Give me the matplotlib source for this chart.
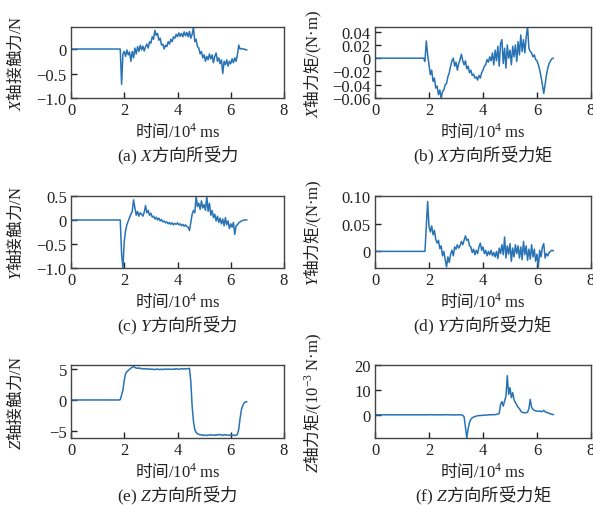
import matplotlib
matplotlib.use("Agg")
import matplotlib.pyplot as plt
from matplotlib.ticker import FixedLocator, FixedFormatter

plt.rcParams['font.family'] = ['Liberation Serif', 'Noto Sans CJK SC']
plt.rcParams['mathtext.fontset'] = 'custom'
plt.rcParams['mathtext.rm'] = 'Liberation Serif'
plt.rcParams['mathtext.it'] = 'Liberation Serif:italic'
plt.rcParams['font.size'] = 12

# time in 10^4 ms
time_1e4ms = [0.0,
    1.80, 1.85, 1.90, 1.95, 2.00, 2.05, 2.10, 2.15, 2.20, 2.25,
    2.30, 2.35, 2.40, 2.45, 2.50, 2.55, 2.60, 2.65, 2.70, 2.75,
    2.80, 2.85, 2.90, 2.95, 3.00, 3.05, 3.10, 3.15, 3.20, 3.25,
    3.30, 3.35, 3.40, 3.45, 3.50, 3.55, 3.60, 3.65, 3.70, 3.75,
    3.80, 3.85, 3.90, 3.95, 4.00, 4.05, 4.10, 4.15, 4.20, 4.25,
    4.30, 4.35, 4.40, 4.45, 4.50, 4.55, 4.60, 4.65, 4.70, 4.75,
    4.80, 4.85, 4.90, 4.95, 5.00, 5.05, 5.10, 5.15, 5.20, 5.25,
    5.30, 5.35, 5.40, 5.45, 5.50, 5.55, 5.60, 5.65, 5.70, 5.75,
    5.80, 5.85, 5.90, 5.95, 6.00, 6.05, 6.10, 6.15, 6.20, 6.25,
    6.30, 6.35, 6.40, 6.45, 6.50, 6.55, 6.60]

force_x = [0.0,
    0, 0, -0.72, -0.10, -0.05, -0.15, -0.02, -0.12, -0.06, -0.25,
    -0.05, -0.18, 0.02, -0.10, 0.05, -0.05, 0.08, -0.02, 0.06, -0.04,
    0.05, 0.10, 0.02, 0.15, 0.12, 0.25, 0.20, 0.38, 0.28, 0.32,
    0.18, 0.22, 0.08, 0.10, 0.00, 0.08, 0.05, 0.15, 0.10, 0.20,
    0.15, 0.25, 0.22, 0.30, 0.25, 0.33, 0.26, 0.32, 0.25, 0.35,
    0.27, 0.34, 0.25, 0.36, 0.22, 0.30, 0.44, 0.15, 0.20, 0.05,
    0.02, -0.10, -0.05, -0.18, -0.12, -0.25, -0.15, -0.22, -0.10, -0.20,
    -0.12, -0.28, -0.15, -0.08, -0.25, -0.18, -0.30, -0.22, -0.50, -0.25,
    -0.32, -0.22, -0.35, -0.25, -0.30, -0.20, -0.28, -0.18, -0.25, -0.12,
    0.08, 0.00, 0.01, 0.00, 0.00, -0.01, -0.02]

torque_x = [0.0,
    0, -0.005, 0.026, 0.005, -0.010, -0.025, -0.018, -0.035, -0.030, -0.045,
    -0.042, -0.055, -0.048, -0.061, -0.050, -0.048, -0.040, -0.038, -0.028, -0.022,
    -0.012, -0.004, 0.000, -0.012, -0.006, -0.018, -0.008, -0.002, 0.006, -0.004,
    -0.010, -0.004, -0.016, -0.012, -0.022, -0.018, -0.026, -0.024, -0.030, -0.028,
    -0.033, -0.026, -0.030, -0.022, -0.018, -0.012, -0.010, -0.002, -0.006, 0.002,
    -0.004, 0.008, -0.010, 0.012, -0.004, 0.018, -0.012, 0.022, 0.028, -0.008,
    0.015, -0.015, 0.020, 0.000, 0.012, -0.010, 0.018, 0.002, 0.020, -0.005,
    0.025, 0.005, 0.035, 0.010, 0.028, 0.008, 0.032, 0.048, 0.015, 0.010,
    0.008, 0.002, 0.005, -0.002, -0.004, -0.010, -0.018, -0.028, -0.040, -0.053,
    -0.040, -0.025, -0.015, -0.008, -0.004, -0.001, 0.000]

force_y = [0.0,
    0, 0, -0.70, -1.00, -0.45, -0.22, -0.10, -0.02, 0.05, 0.12,
    0.18, 0.42, 0.25, 0.10, 0.18, 0.08, 0.15, 0.12, 0.08, 0.16,
    0.30, 0.15, 0.20, 0.10, 0.14, 0.06, 0.08, 0.02, 0.06, 0.00,
    0.04, -0.02, 0.01, -0.04, -0.02, -0.06, -0.04, -0.08, -0.05, -0.09,
    -0.06, -0.10, -0.07, -0.09, -0.06, -0.10, -0.08, -0.12, -0.09, -0.13,
    -0.10, -0.14, -0.15, -0.22, -0.05, 0.12, 0.20, 0.15, 0.50, 0.28,
    0.35, 0.22, 0.40, 0.25, 0.32, 0.20, 0.50, 0.18, 0.35, 0.10,
    0.20, 0.05, 0.12, -0.02, 0.08, -0.05, 0.04, -0.08, 0.02, -0.12,
    0.05, -0.10, -0.02, -0.18, -0.08, -0.15, -0.05, -0.30, -0.12, -0.10,
    -0.06, -0.04, -0.02, -0.01, 0.00, 0.00, 0.00]

torque_y = [0.0,
    0, 0.000, 0.045, 0.090, 0.045, 0.035, 0.046, 0.030, 0.038, 0.022,
    0.015, 0.020, 0.005, 0.010, -0.008, 0.000, -0.015, -0.028, -0.010, -0.020,
    -0.005, 0.002, -0.008, 0.008, 0.004, 0.012, 0.006, 0.010, 0.018, 0.012,
    0.020, 0.028, 0.020, 0.022, 0.010, 0.008, -0.002, 0.004, -0.006, 0.002,
    -0.004, 0.008, 0.015, 0.002, 0.008, -0.004, 0.002, -0.008, 0.000, -0.006,
    0.002, -0.008, -0.002, -0.010, 0.000, -0.013, 0.006, -0.004, 0.012, -0.006,
    0.026, -0.012, 0.010, -0.005, 0.014, -0.018, 0.006, -0.010, 0.012, -0.004,
    0.010, -0.012, 0.008, -0.015, 0.018, -0.006, 0.010, -0.016, 0.004, -0.014,
    0.012, -0.010, 0.004, -0.018, -0.005, -0.028, 0.002, -0.010, 0.008, 0.014,
    -0.012, -0.004, -0.008, -0.002, 0.000, 0.002, 0.001]

force_z = [0.0,
    0, 0.05, 0.8, 1.6, 3.2, 4.3, 4.6, 4.8, 5.0, 5.2,
    5.3, 5.5, 5.3, 5.2, 5.15, 5.25, 5.1, 5.15, 5.05, 5.1,
    5.05, 5.1, 5.0, 5.05, 5.0, 5.05, 4.95, 5.0, 5.0, 5.05,
    4.95, 5.0, 5.0, 4.95, 5.05, 5.0, 5.0, 5.05, 5.0, 5.0,
    5.0, 5.05, 5.0, 5.1, 5.05, 5.0, 5.05, 5.1, 5.05, 5.1,
    5.05, 5.1, 5.1, 5.15, 3.0, -1.0, -3.5, -4.8, -5.3, -5.5,
    -5.6, -5.7, -5.65, -5.8, -5.7, -5.75, -5.8, -5.7, -5.75, -5.65,
    -5.75, -5.7, -5.8, -5.65, -5.75, -5.6, -5.7, -5.65, -5.8, -5.7,
    -5.65, -5.75, -5.7, -5.8, -5.65, -5.75, -5.7, -5.8, -5.75, -5.6,
    -4.8, -3.0, -1.6, -0.9, -0.5, -0.3, -0.3]

torque_z = [0.0,
    0, 0, 0, 0, 0, 0.1, 0, 0, 0, 0,
    0, 0, 0, 0, 0, 0, 0, 0.1, 0, 0,
    0, 0, 0, -0.1, 0, 0, 0, 0, 0, -0.2,
    -0.8, -5.0, -9.3, -5.5, -3.0, -1.8, -1.2, -0.9, -0.7, -0.5,
    -0.4, -0.3, -0.3, -0.2, -0.2, -0.1, -0.1, -0.1, 0, 0,
    0.0, 0.1, 0.0, 0.1, 0.2, 0.3, 0.5, 4.2, 5.3, 3.5,
    5.5, 7.5, 15.7, 8.2, 10.9, 6.9, 8.9, 6.0, 4.9, 4.0,
    3.0, 2.5, 1.5, 1.0, 0.9, 0.8, 0.9, 1.0, 2.5, 6.2,
    3.0, 2.2, 1.8, 1.6, 1.5, 1.4, 1.5, 1.3, 1.4, 1.8,
    1.2, 1.0, 0.8, 0.6, 0.4, 0.2, 0.1]

x_ticks = [0, 2, 4, 6, 8]
x_ticklabels = ['0', '2', '4', '6', '8']
x_label = '时间$\\mathrm{/10^4\\ ms}$'

panels = [
    dict(y=force_x, ylim=(-1.0, 0.45), yticks=[-1.0, -0.5, 0],
         yticklabels=['\u22121.0', '\u22120.5', '0'],
         ylabel='$\\mathit{X}$轴接触力$\\mathrm{/N}$',
         caption='$\\mathrm{(a)}\\ \\mathit{X}$方向所受力'),
    dict(y=torque_x, ylim=(-0.06, 0.047), yticks=[-0.06, -0.04, -0.02, 0, 0.02, 0.04],
         yticklabels=['\u22120.06', '\u22120.04', '\u22120.02', '0', '0.02', '0.04'],
         ylabel='$\\mathit{X}$轴力矩$\\mathrm{/(N\u00b7m)}$',
         caption='$\\mathrm{(b)}\\ \\mathit{X}$方向所受力矩'),
    dict(y=force_y, ylim=(-1.0, 0.5), yticks=[-1.0, -0.5, 0, 0.5],
         yticklabels=['\u22121.0', '\u22120.5', '0', '0.5'],
         ylabel='$\\mathit{Y}$轴接触力$\\mathrm{/N}$',
         caption='$\\mathrm{(c)}\\ \\mathit{Y}$方向所受力'),
    dict(y=torque_y, ylim=(-0.03, 0.10), yticks=[0, 0.05, 0.10],
         yticklabels=['0', '0.05', '0.10'],
         ylabel='$\\mathit{Y}$轴力矩$\\mathrm{/(N\u00b7m)}$',
         caption='$\\mathrm{(d)}\\ \\mathit{Y}$方向所受力矩'),
    dict(y=force_z, ylim=(-6.2, 5.7), yticks=[-5, 0, 5],
         yticklabels=['\u22125', '0', '5'],
         ylabel='$\\mathit{Z}$轴接触力$\\mathrm{/N}$',
         caption='$\\mathrm{(e)}\\ \\mathit{Z}$方向所受力'),
    dict(y=torque_z, ylim=(-9.3, 20), yticks=[0, 10, 20],
         yticklabels=['0', '10', '20'],
         ylabel='$\\mathit{Z}$轴力矩$\\mathrm{/(10^{-3}\\ N\u00b7m)}$',
         caption='$\\mathrm{(f)}\\ \\mathit{Z}$方向所受力矩'),
]

W, H = 593, 506
fig = plt.figure(figsize=(W / 100, H / 100), dpi=100)

cols = [(71, 284), (375, 591)]
rows = [(28, 99), (197, 269), (366, 439)]
xlabel_y = [131, 302, 472]
caption_y = [155, 325, 495]
ylabel_x = [15, 313]

line_color = '#2873b4'
txt_color = '#222222'
cjk = 'Noto Sans CJK SC'
fs_tick = 12
fs_label = 12
fs_cap = 12.5

for idx, p in enumerate(panels):
    r, c = divmod(idx, 2)
    l, rr = cols[c]
    t, b = rows[r]
    ax = fig.add_axes([l / W, 1 - b / H, (rr - l) / W, (b - t) / H])
    ax.plot(time_1e4ms, p['y'], color=line_color, lw=1.1)
    ax.set_xlim(0, 8)
    ax.set_ylim(*p['ylim'])
    ax.xaxis.set_major_locator(FixedLocator(x_ticks))
    ax.xaxis.set_major_formatter(FixedFormatter(x_ticklabels))
    ax.yaxis.set_major_locator(FixedLocator(p['yticks']))
    ax.yaxis.set_major_formatter(FixedFormatter(p['yticklabels']))
    ax.tick_params(direction='in', length=4, width=1.0, pad=3, labelsize=fs_tick,
                   colors=txt_color, labelcolor=txt_color)
    for s in ax.spines.values():
        s.set_color('#444444')
        s.set_linewidth(1.0)
    ax.set_xlabel(x_label, fontsize=fs_label, color=txt_color, fontfamily=cjk)
    ax.xaxis.set_label_coords(0.5, 1 - (xlabel_y[r] - t) / (b - t))
    ax.xaxis.label.set_va('center')
    ax.set_ylabel(p['ylabel'], fontsize=fs_label, color=txt_color, fontfamily=cjk)
    ax.yaxis.set_label_coords((ylabel_x[c] - l) / (rr - l), 0.5)
    ax.yaxis.label.set_va('center')
    fig.text((l + rr) / 2 / W, 1 - caption_y[r] / H, p['caption'],
             ha='center', va='center', fontsize=fs_cap, color=txt_color, fontfamily=cjk)

fig.savefig('out.png', dpi=100)
